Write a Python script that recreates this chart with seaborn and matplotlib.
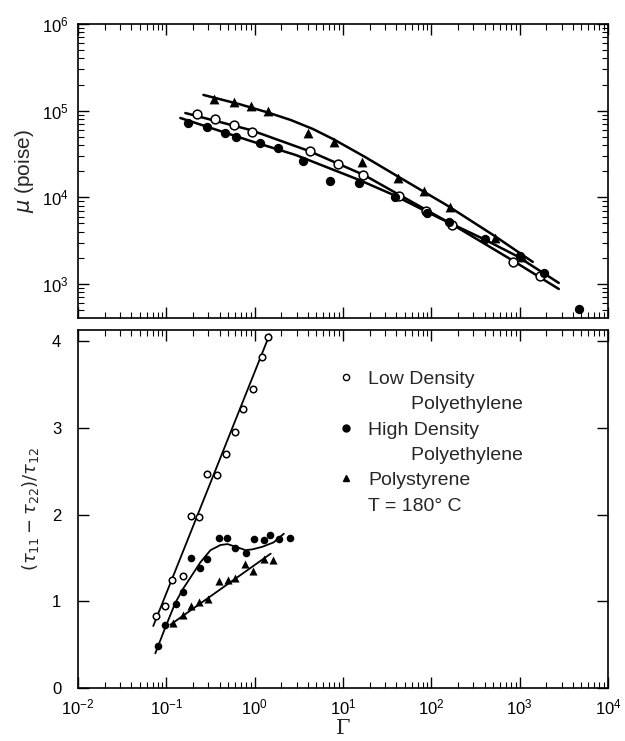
import numpy as np
import pandas as pd
import matplotlib
matplotlib.use("Agg")
import matplotlib.pyplot as plt
from matplotlib.lines import Line2D
from matplotlib.ticker import NullFormatter, FixedLocator
import seaborn as sns

# --- top panel: viscosity mu (poise) vs shear rate Gamma ---
ldpe_gamma = [0.225, 0.36, 0.577, 0.925, 4.2, 8.8, 16.9, 43, 86, 173, 832, 1690]
ldpe_mu = [9.2e4, 8.0e4, 6.8e4, 5.7e4, 3.4e4, 2.43e4, 1.81e4, 1.04e4, 6.97e3, 4.8e3, 1.8e3, 1.24e3]

hdpe_gamma = [0.178, 0.292, 0.456, 0.608, 1.14, 1.82, 3.5, 7.1, 15.2, 39, 90, 160, 400, 1000, 1875, 4680]
hdpe_mu = [7.2e4, 6.5e4, 5.5e4, 4.98e4, 4.24e4, 3.7e4, 2.63e4, 1.55e4, 1.47e4, 1.01e4, 6.6e3, 5.2e3,
           3.3e3, 2.1e3, 1.34e3, 516]

ps_gamma = [0.342, 0.577, 0.90, 1.41, 4.0, 7.9, 16.4, 42, 83, 164, 520, 1050]
ps_mu = [1.36e5, 1.26e5, 1.13e5, 0.99e5, 5.5e4, 4.35e4, 2.56e4, 1.67e4, 1.19e4, 7.7e3, 3.4e3, 2.06e3]

# curves drawn through the data in the original figure
ldpe_fit_gamma = [0.164, 0.90, 4.11, 17.3, 43.3, 169, 811, 2773]
ldpe_fit_mu = [9.4e4, 5.98e4, 3.43e4, 1.81e4, 1.07e4, 4.93e3, 1.90e3, 877]
hdpe_fit_gamma = [0.144, 0.90, 2.92, 15.2, 37, 123, 390, 925, 2773]
hdpe_fit_mu = [8.24e4, 4.47e4, 3.08e4, 1.59e4, 1.07e4, 5.78e3, 3.31e3, 2.11e3, 1.03e3]
ps_fit_gamma = [0.263, 0.693, 1.41, 2.56, 4.56, 7.9, 17.8, 40, 148, 520, 1406]
ps_fit_mu = [1.52e5, 1.179e5, 9.53e4, 7.81e4, 6.15e4, 4.65e4, 2.92e4, 1.79e4, 8.17e3, 3.59e3, 1.80e3]

# --- bottom panel: (tau11 - tau22)/tau12 vs Gamma ---
ldpe_n_gamma = [0.0769, 0.0975, 0.117, 0.156, 0.192, 0.237, 0.292, 0.37, 0.468, 0.593, 0.731, 0.948, 1.20, 1.41]
ldpe_n = [0.83, 0.946, 1.246, 1.29, 1.98, 1.97, 2.47, 2.46, 2.70, 2.95, 3.22, 3.45, 3.82, 4.05]

hdpe_n_gamma = [0.081, 0.0975, 0.130, 0.156, 0.192, 0.243, 0.292, 0.39, 0.481, 0.593, 0.79, 0.975,
                1.26, 1.48, 1.87, 2.5]
hdpe_n = [0.48, 0.73, 0.97, 1.11, 1.50, 1.38, 1.49, 1.73, 1.73, 1.61, 1.56, 1.72, 1.71, 1.76, 1.72, 1.73]

ps_n_gamma = [0.120, 0.156, 0.192, 0.237, 0.30, 0.39, 0.493, 0.593, 0.77, 0.948, 1.26, 1.60]
ps_n = [0.75, 0.84, 0.95, 0.99, 1.03, 1.23, 1.25, 1.27, 1.43, 1.35, 1.49, 1.48]

ldpe_n_fit_gamma = [0.0711, 1.48]
ldpe_n_fit = [0.715, 4.08]
hdpe_n_fit_gamma = [0.075, 0.0975, 0.126, 0.156, 0.243, 0.316, 0.411, 0.493, 0.608, 0.79, 0.948, 1.23, 1.64, 2.14]
hdpe_n_fit = [0.40, 0.70, 0.98, 1.15, 1.45, 1.59, 1.65, 1.66, 1.63, 1.59, 1.60, 1.63, 1.68, 1.78]
ps_n_fit_gamma = [0.111, 1.52]
ps_n_fit = [0.73, 1.55]

x_major = [1e-2, 1e-1, 1e0, 1e1, 1e2, 1e3, 1e4]
mu_major = [1e3, 1e4, 1e5, 1e6]

sns.set_style("ticks")
plt.rcParams['font.family'] = ['Liberation Sans', 'DejaVu Sans']
plt.rcParams['mathtext.fontset'] = 'dejavusans'

fig = plt.figure(figsize=(6.25, 7.41), dpi=100)
ax1 = fig.add_axes([0.1248, 0.5709, 0.8480, 0.3967])
ax2 = fig.add_axes([0.1248, 0.0715, 0.8480, 0.4832])

open_kw = dict(marker='o', facecolor='white', edgecolor='black', linewidth=1.1)
fill_kw = dict(marker='o', color='black', edgecolor='black', linewidth=0)
tri_kw = dict(marker='^', color='black', edgecolor='black', linewidth=0)

# top panel
for gx, gy in [(ldpe_fit_gamma, ldpe_fit_mu), (hdpe_fit_gamma, hdpe_fit_mu), (ps_fit_gamma, ps_fit_mu)]:
    sns.lineplot(x=gx, y=gy, color='black', linewidth=1.8, sort=False, estimator=None, ax=ax1)
sns.scatterplot(x=ldpe_gamma, y=ldpe_mu, s=40, zorder=3, ax=ax1, **open_kw)
sns.scatterplot(x=hdpe_gamma, y=hdpe_mu, s=45, zorder=3, ax=ax1, **fill_kw)
sns.scatterplot(x=ps_gamma, y=ps_mu, s=50, zorder=3, ax=ax1, **tri_kw)

# bottom panel
for gx, gy in [(ldpe_n_fit_gamma, ldpe_n_fit), (hdpe_n_fit_gamma, hdpe_n_fit), (ps_n_fit_gamma, ps_n_fit)]:
    sns.lineplot(x=gx, y=gy, color='black', linewidth=1.3, sort=False, estimator=None, ax=ax2)
sns.scatterplot(x=ldpe_n_gamma, y=ldpe_n, s=22, zorder=3, ax=ax2, **open_kw)
sns.scatterplot(x=hdpe_n_gamma, y=hdpe_n, s=30, zorder=3, ax=ax2, **fill_kw)
sns.scatterplot(x=ps_n_gamma, y=ps_n, s=34, zorder=3, ax=ax2, **tri_kw)

# minor log ticks (2..9 per decade) kept inside the visible range
x_minor = [m * d for d in x_major[:-1] for m in range(2, 10)]
mu_minor = [m * d for d in [1e2] + mu_major[:-1] for m in range(2, 10) if m * d >= 406]

for ax in (ax1, ax2):
    ax.set_xscale('log')
    ax.set_xlim(1e-2, 1e4)
    ax.xaxis.set_major_locator(FixedLocator(x_major))
    ax.xaxis.set_minor_locator(FixedLocator(x_minor))
    ax.xaxis.set_minor_formatter(NullFormatter())
    ax.tick_params(which='both', direction='in', top=True, right=True, colors='black')
    ax.tick_params(which='major', length=8, width=1.0, labelsize=12)
    ax.tick_params(which='minor', length=4.5, width=0.8)
    for sp in ax.spines.values():
        sp.set_linewidth(1.2)
        sp.set_color('black')

ax1.set_yscale('log')
ax1.set_ylim(406, 1e6)
ax1.yaxis.set_major_locator(FixedLocator(mu_major))
ax1.yaxis.set_minor_locator(FixedLocator(mu_minor))
ax1.yaxis.set_minor_formatter(NullFormatter())
ax1.tick_params(axis='x', labelbottom=False)
ax1.tick_params(axis='y', pad=7)
ax1.set_xlabel('')
ax1.set_ylabel(r'$\mu$ (poise)', fontsize=15, labelpad=4)

ax2.set_ylim(0, 4.13)
ax2.set_yticks([0, 1, 2, 3, 4])
ax2.tick_params(axis='y', pad=12)
ax2.tick_params(axis='x', pad=7)
ax2.set_ylabel(r'$(\tau_{11} - \tau_{22})/\tau_{12}$', fontsize=13, labelpad=8)
ax2.set_xlabel('Γ', fontsize=15, labelpad=1, fontfamily='DejaVu Serif')

handles = [
    Line2D([], [], linestyle='none', marker='o', markersize=4.5, markerfacecolor='white', markeredgecolor='black'),
    Line2D([], [], linestyle='none'),
    Line2D([], [], linestyle='none', marker='o', markersize=5, markerfacecolor='black', markeredgecolor='black'),
    Line2D([], [], linestyle='none'),
    Line2D([], [], linestyle='none', marker='^', markersize=5, markerfacecolor='black', markeredgecolor='black'),
    Line2D([], [], linestyle='none'),
]
labels = ['Low Density', '        Polyethylene', 'High Density', '        Polyethylene',
          'Polystyrene', 'T = 180° C']
ax2.legend(handles, labels, loc='upper left', bbox_to_anchor=(0.47, 0.915), frameon=False,
           fontsize=14, handlelength=0.9, handletextpad=0.7, labelspacing=0.4, borderpad=0)

fig.savefig('out.png', dpi=100)
